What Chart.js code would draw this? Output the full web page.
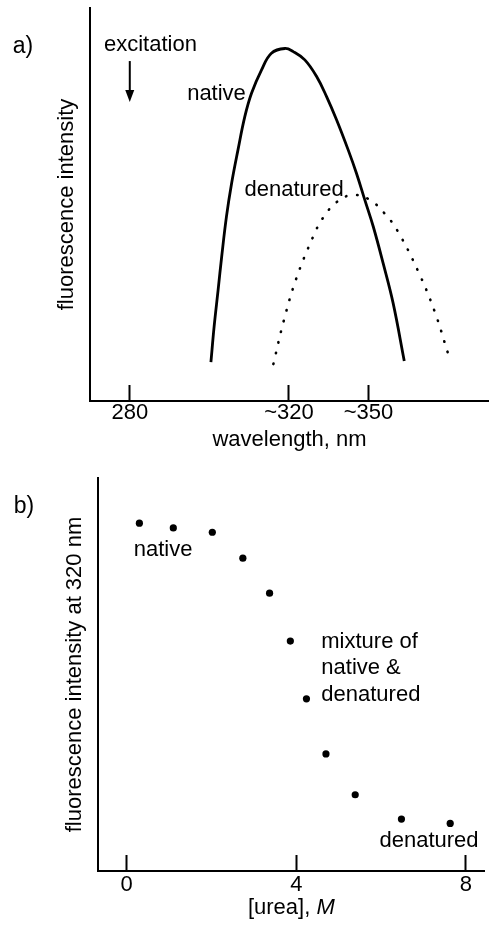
<!DOCTYPE html>
<html>
<head>
<meta charset="utf-8">
<script src="https://cdn.jsdelivr.net/npm/chart.js@4.4.1/dist/chart.umd.min.js"></script>
<style>
  html, body { margin: 0; padding: 0; background: #fff; }
  #wrap { position: relative; width: 489px; height: 926px; }
  canvas { position: absolute; left: 0; }
  #specChart { top: 0; }
  #ureaChart { top: 460px; }
</style>
</head>
<body>
<div id="wrap">
  <canvas id="specChart" width="489" height="460"></canvas>
  <canvas id="ureaChart" width="489" height="466"></canvas>
</div>
<script>
// a) emission spectra -- x is in drawing units, the axis is schematic
// (280 nm sits at 0, ~320 at 4, ~350 at 6)
const specTickPos = [0, 4, 6];
const specTickLabels = ['280', '~320', '~350'];

const nativeX = [2.04, 2.12, 2.22, 2.31, 2.43, 2.56, 2.72, 2.89, 3.06, 3.31, 3.56, 3.90,
    4.11, 4.40, 4.70, 4.95, 5.20, 5.49, 5.70, 5.91, 6.12, 6.37, 6.62, 6.90];
const nativeY = [9.9, 18.9, 28.2, 36.7, 46.9, 55.4, 63.9, 72.3, 78.3, 84.2, 88.5, 89.7,
    88.9, 86.8, 82.5, 77.4, 71.5, 63.9, 57.9, 51.1, 44.4, 35.0, 24.9, 10.2];

const denaturedX = [3.61, 3.87, 4.18, 4.60, 4.85, 5.20, 5.58, 6.00, 6.40, 6.73, 7.24, 7.66, 8.00];
const denaturedY = [9.4, 20.4, 31.0, 41.6, 46.5, 50.6, 52.4, 51.4, 47.8, 43.3, 33.2, 22.9, 12.1];

// b) urea titration
const ureaTicks = [0, 4, 8];
const ureaConc = [0.30, 1.10, 2.02, 2.74, 3.37, 3.86, 4.24, 4.70, 5.39, 6.48, 7.63];
const intensity320 = [88.5, 87.3, 86.2, 79.6, 70.7, 58.5, 43.8, 29.8, 19.4, 13.2, 12.1];

const FONT = '"Liberation Sans", Arial, Helvetica, sans-serif';
const FS = 22;
Chart.defaults.font.family = FONT;
Chart.defaults.font.size = FS;
Chart.defaults.color = '#000';

const toPoints = (xs, ys) => xs.map((x, i) => ({x: x, y: ys[i]}));

// text + arrow annotations, placed in data units through the scales
const notes = {
    id: 'notes',
    afterDraw(chart, args, opts) {
        const {ctx} = chart;
        const xs = chart.scales.x, ys = chart.scales.y;
        ctx.save();
        ctx.fillStyle = '#000';
        ctx.strokeStyle = '#000';
        ctx.textBaseline = 'middle';
        (opts.texts || []).forEach(t => {
            ctx.font = (t.size || FS) + 'px ' + FONT;
            ctx.textAlign = t.align || 'center';
            const px = t.px != null ? t.px : xs.getPixelForValue(t.x);
            const py = t.py != null ? t.py : ys.getPixelForValue(t.y);
            ctx.fillText(t.text, px, py);
        });
        if (opts.arrow) {
            const a = opts.arrow;
            const ax = xs.getPixelForValue(a.x);
            const y0 = ys.getPixelForValue(a.from);
            const y1 = ys.getPixelForValue(a.to);
            ctx.lineWidth = 2;
            ctx.beginPath();
            ctx.moveTo(ax, y0);
            ctx.lineTo(ax, y1 - 8);
            ctx.stroke();
            ctx.beginPath();
            ctx.moveTo(ax - 4.5, y1 - 12);
            ctx.lineTo(ax + 4.5, y1 - 12);
            ctx.lineTo(ax, y1);
            ctx.closePath();
            ctx.fill();
        }
        if (opts.xTitle) {
            // "[urea], M" with the M in italics
            const parts = opts.xTitle;
            let w = 0;
            parts.forEach(p => {
                ctx.font = (p.italic ? 'italic ' : '') + FS + 'px ' + FONT;
                p.w = ctx.measureText(p.text).width;
                w += p.w;
            });
            let cx = (xs.left + xs.right) / 2 - w / 2;
            const cy = opts.xTitleY;
            ctx.textAlign = 'left';
            parts.forEach(p => {
                ctx.font = (p.italic ? 'italic ' : '') + FS + 'px ' + FONT;
                ctx.fillText(p.text, cx, cy);
                cx += p.w;
            });
        }
        ctx.restore();
    }
};

new Chart(document.getElementById('specChart'), {
    type: 'line',
    data: {
        datasets: [{
            label: 'native',
            data: toPoints(nativeX, nativeY),
            borderColor: '#000',
            borderWidth: 2.8,
            pointRadius: 0,
            tension: 0.4,
            fill: false
        }, {
            label: 'denatured',
            data: toPoints(denaturedX, denaturedY),
            borderColor: '#000',
            borderWidth: 2.6,
            borderDash: [0.5, 10.5],
            borderCapStyle: 'round',
            pointRadius: 0,
            tension: 0.4,
            fill: false
        }]
    },
    options: {
        responsive: false,
        animation: false,
        devicePixelRatio: 1,
        layout: {padding: {top: 8, left: 0, right: 0, bottom: 0}},
        scales: {
            x: {
                type: 'linear',
                min: -1,
                max: 9.03,
                afterBuildTicks: s => { s.ticks = specTickPos.map(v => ({value: v})); },
                afterFit: s => { s.height = 59; },
                ticks: {
                    color: '#000',
                    padding: 14.8,
                    maxRotation: 0,
                    autoSkip: false,
                    callback: v => specTickLabels[specTickPos.indexOf(v)]
                },
                grid: {display: true, drawOnChartArea: false, drawTicks: true, tickLength: -16, tickWidth: 2, tickColor: '#000'},
                border: {display: true, color: '#000', width: 2},
                title: {display: true, text: 'wavelength, nm', color: '#000', padding: {top: 0, bottom: 6.8}}
            },
            y: {
                type: 'linear',
                min: 0,
                max: 100,
                afterFit: s => { s.width = 90; },
                ticks: {display: false},
                grid: {display: false},
                border: {display: true, color: '#000', width: 2},
                title: {display: true, text: 'fluorescence intensity', color: '#000', padding: {top: 53.8, bottom: 0}}
            }
        },
        plugins: {
            legend: {display: false},
            tooltip: {enabled: false},
            notes: {
                texts: [
                    {text: 'a)', px: 23, py: 47, size: 23},
                    {text: 'excitation', x: 0.52, y: 90.6},
                    {text: 'native', x: 2.18, y: 78.1},
                    {text: 'denatured', x: 4.13, y: 53.7}
                ],
                arrow: {x: 0, from: 86.5, to: 76.1}
            }
        }
    },
    plugins: [notes]
});

new Chart(document.getElementById('ureaChart'), {
    type: 'scatter',
    data: {
        datasets: [{
            label: 'fluorescence at 320 nm',
            data: toPoints(ureaConc, intensity320),
            backgroundColor: '#000',
            borderWidth: 0,
            pointRadius: 3.6
        }]
    },
    options: {
        responsive: false,
        animation: false,
        devicePixelRatio: 1,
        layout: {padding: {top: 18, left: 0, right: 0, bottom: 0}},
        scales: {
            x: {
                type: 'linear',
                min: -0.676,
                max: 8.443,
                afterBuildTicks: s => { s.ticks = ureaTicks.map(v => ({value: v})); },
                afterFit: s => { s.height = 55; },
                ticks: {color: '#000', padding: 16.8, maxRotation: 0, autoSkip: false},
                grid: {display: true, drawOnChartArea: false, drawTicks: true, tickLength: -16, tickWidth: 2, tickColor: '#000'},
                border: {display: true, color: '#000', width: 2},
                title: {display: false}
            },
            y: {
                type: 'linear',
                min: 0,
                max: 100,
                afterFit: s => { s.width = 98; },
                ticks: {display: false},
                grid: {display: false},
                border: {display: true, color: '#000', width: 2},
                title: {display: true, text: 'fluorescence intensity at 320 nm', color: '#000', padding: {top: 61.8, bottom: 0}}
            }
        },
        plugins: {
            legend: {display: false},
            tooltip: {enabled: false},
            notes: {
                texts: [
                    {text: 'b)', px: 24, py: 47, size: 23},
                    {text: 'native', x: 0.86, y: 81.7},
                    {text: 'mixture of', x: 4.59, y: 58.3, align: 'left'},
                    {text: 'native &', x: 4.59, y: 51.7, align: 'left'},
                    {text: 'denatured', x: 4.59, y: 44.8, align: 'left'},
                    {text: 'denatured', x: 7.13, y: 7.6}
                ],
                xTitle: [{text: '[urea], '}, {text: 'M', italic: true}],
                xTitleY: 448
            }
        }
    },
    plugins: [notes]
});
</script>
</body>
</html>
